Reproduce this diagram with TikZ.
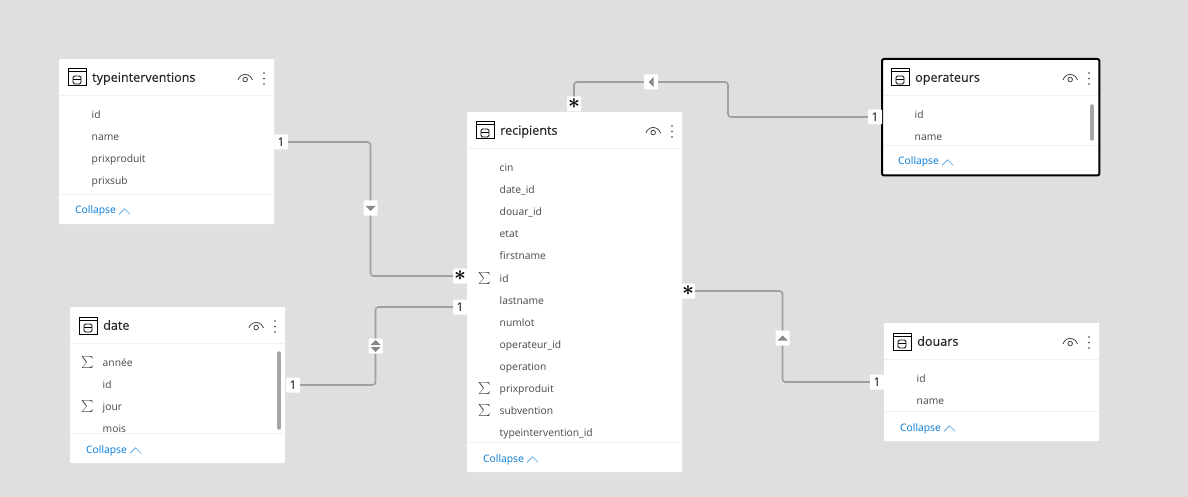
\documentclass[tikz,border=0pt]{standalone}
\usepackage{amsmath}
\usepackage{fontspec}
\setmainfont{Open Sans}
\usetikzlibrary{calc, positioning}

\definecolor{canvasgray}{HTML}{E0DFDD}
\definecolor{linkgray}{HTML}{A0A09E}
\definecolor{fieldgray}{HTML}{4A4644}
\definecolor{rulegray}{HTML}{F0F0F0}
\definecolor{linkblue}{HTML}{0078D4}

\tikzset{
  card/.style={fill=white, anchor=north west, inner sep=0pt, rounded corners=1pt},
  cardtitle/.style={anchor=base west, inner sep=0pt, font=\fontsize{12.6}{15}\selectfont\addfontfeature{FakeBold=0.2}, text=black!85},
  field/.style={anchor=base west, inner sep=0pt, font=\fontsize{10.3}{12}\selectfont, text=fieldgray},
  sigma/.style={inner sep=0pt, text=fieldgray, font=\fontsize{12}{12}\selectfont},
  collapse/.style={anchor=base west, inner sep=0pt, font=\fontsize{10.3}{12}\selectfont, text=linkblue},
  badge/.style={fill=white, inner sep=0pt, minimum width=14pt, minimum height=15pt, rounded corners=1pt, font=\fontsize{12}{12}\selectfont, text=black},
  stard/.style={badge, font=\fontsize{21}{21}\selectfont\boldmath},
  relation/.style={draw=linkgray, line width=1.6pt, rounded corners=3pt},
  tip/.style={fill=linkgray!85!black},
  scrollbar/.style={line width=3.5pt, draw=black!35, line cap=round},
}

% #1 name, #2 left, #3 top, #4 width, #5 height, #6 title, #7 fields, #8 extra style
\newcommand{\modelcard}[8]{
  \node (#1) [card, minimum width=#4pt, minimum height=#5pt, #8] at (#2,#3) {};
  \begin{scope}[shift={(#1.north west)}]
    \node (#1title) [cardtitle] at (33,22.8) {#6};
    % table icon
    \draw [line width=1pt] (9,10) rectangle (27,27);
    \draw [line width=1pt] (9,13) -- (27,13);
    \draw [line width=.9pt, rounded corners=1.5pt] (14,17) rectangle (22,25);
    \draw [line width=.7pt] (14,20) -- (22,20);
    % eye and dots
    \draw [line width=.8pt, fieldgray] (#4-36,21) arc [start angle=-165, end angle=-15, radius=7.5];
    \draw [line width=.8pt, fieldgray] (#4-28.8,20.5) circle [radius=2.3];
    \foreach \dy in {14,19.5,25}
      \fill [black!80] (#4-10,\dy) circle [radius=.95];
    \draw [rulegray, line width=1pt] (0,36.5) -- (#4,36.5);
    \foreach \lab/\sig [count=\i from 0] in {#7} {
      \node (#1f\i) [field] at (32.5,59.5+22.1*\i) {\lab};
      \ifnum\sig=1 \node (#1s\i) [sigma] at (17.5,55.5+22.1*\i) {$\sum$}; \fi
    }
    \fill [white] (0,#5-30) rectangle (#4,#5-1);
    \draw [rulegray, line width=.8pt] (0,#5-29.5) -- (#4,#5-29.5);
    \node (#1c) [collapse] at (16,#5-10) {Collapse};
    \draw [linkblue!70, line width=.6pt] ($(#1c.east)+(3,3)$) -- ++(5.5,-5.5) -- ++(5.5,5.5);
  \end{scope}
}

\begin{document}
\begin{tikzpicture}[x=1pt, y=-1pt]
  \fill [canvasgray] (0,0) rectangle (1188,497);
  \useasboundingbox (0,0) rectangle (1188,497);

  \modelcard{typeint}{59}{59}{215}{165}{typeinterventions}{id/0,name/0,prixproduit/0,prixsub/0}{}
  \modelcard{recipients}{467}{112}{215}{360}{recipients}{cin/0,date\_id/0,douar\_id/0,etat/0,firstname/0,id/1,lastname/0,numlot/0,operateur\_id/0,operation/0,prixproduit/1,subvention/1,typeintervention\_id/0}{}
  \modelcard{operateurs}{882}{59}{217}{116}{operateurs}{id/0,name/0}{}
  \modelcard{date}{70}{307}{215}{156}{date}{année/1,id/0,jour/1,mois/0}{}
  \modelcard{douars}{884}{323}{215}{118}{douars}{id/0,name/0}{}

  % selected table and scroll bars
  \draw [line width=2pt, black, rounded corners=2pt] (operateurs.north west) rectangle (operateurs.south east);
  \draw [scrollbar] (1092,106) -- (1092,139);
  \draw [scrollbar] (279,353) -- (279,428);

  % cardinalities
  \node (oneT) [badge] at (281,142) {1};
  \node (manyTa) [stard] at (460,276) {\raisebox{-3pt}{$\ast$}};
  \node (oneD) [badge] at (293,385) {1};
  \node (manyD) [badge] at (460,307) {1};
  \node (oneO) [badge] at (875,117) {1};
  \node (manyO) [stard] at (574,104) {\raisebox{-3pt}{$\ast$}};
  \node (manyR) [stard] at (688,291) {\raisebox{-3pt}{$\ast$}};
  \node (oneR) [badge] at (877,382) {1};

  % filter direction boxes
  \node (filtT) [badge] at (370.5,208) {};
  \node (filtD) [badge] at (375.5,346) {};
  \node (filtO) [badge] at (651,82) {};
  \node (filtR) [badge] at (782.5,338) {};
  \coordinate (bendO) at (728,82);

  \draw [relation] (oneT) -| (filtT);
  \draw [relation] (filtT) |- (manyTa);
  \draw [relation] (oneD) -| (filtD);
  \draw [relation] (filtD) |- (manyD);
  \draw [relation] (oneO) -| (bendO) -- (filtO);
  \draw [relation] (filtO) -| (manyO);
  \draw [relation] (manyR) -| (filtR);
  \draw [relation] (filtR) |- (oneR);

  \fill [tip, shift={(filtT.center)}] (-5,-2) -- (5,-2) -- (0,3) -- cycle;
  \fill [tip, shift={(filtO.center)}] (2.5,-5) -- (2.5,5) -- (-2.5,0) -- cycle;
  \fill [tip, shift={(filtR.center)}] (-5,2.5) -- (5,2.5) -- (0,-2.5) -- cycle;
  \fill [tip, shift={(filtD.center)}] (-5,-1) -- (5,-1) -- (0,-6) -- cycle;
  \fill [tip, shift={(filtD.center)}] (-5,1) -- (5,1) -- (0,6) -- cycle;
\end{tikzpicture}
\end{document}
